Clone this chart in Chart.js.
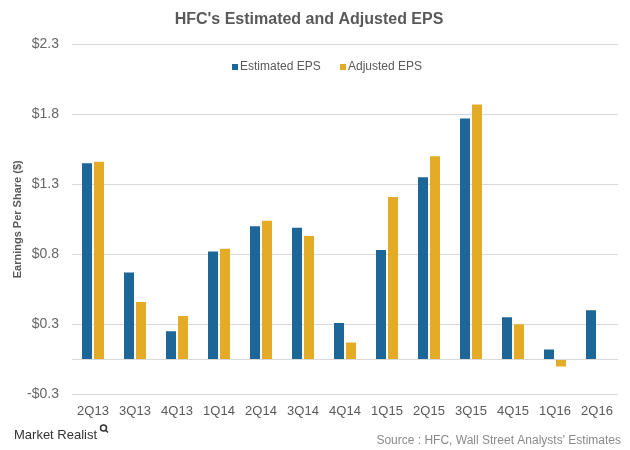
<!DOCTYPE html>
<html>
<head>
<meta charset="utf-8">
<script src="https://cdn.jsdelivr.net/npm/chart.js@4.4.0/dist/chart.umd.min.js"></script>
<style>
html,body{margin:0;padding:0;background:#fff;}
#wrap{width:630px;height:450px;position:relative;}
</style>
</head>
<body>
<div id="wrap"><canvas id="bar-chart"></canvas></div>
<script>
var quarters = ["2Q13", "3Q13", "4Q13", "1Q14", "2Q14", "3Q14", "4Q14", "1Q15", "2Q15", "3Q15", "4Q15", "1Q16", "2Q16"];
var estimatedEps = [1.40, 0.62, 0.20, 0.77, 0.95, 0.94, 0.26, 0.78, 1.30, 1.72, 0.30, 0.07, 0.35];
var adjustedEps = [1.41, 0.41, 0.31, 0.79, 0.99, 0.88, 0.12, 1.16, 1.45, 1.82, 0.25, -0.05, null];
var yTicks = [-0.25, 0, 0.25, 0.75, 1.25, 1.75, 2.25];
var yTickLabels = ["-$0.3", "", "$0.3", "$0.8", "$1.3", "$1.8", "$2.3"];

var blue = "#1c6698";
var gold = "#e3ab26";

// legend sits inside the plot, under the top grid line
var innerLegend = {
  id: "innerLegend",
  afterDraw: function(chart) {
    var c = chart.ctx;
    var y = 67;
    c.save();
    c.font = "12px 'Liberation Sans', Arial, sans-serif";
    c.textBaseline = "middle";
    c.fillStyle = blue;
    c.fillRect(232, y - 3, 6, 6);
    c.fillStyle = "#595959";
    c.fillText(chart.data.datasets[0].label, 240, y);
    c.fillStyle = gold;
    c.fillRect(340, y - 3, 6, 6);
    c.fillStyle = "#595959";
    c.fillText(chart.data.datasets[1].label, 348, y);
    c.restore();
  }
};

var footer = {
  id: "footer",
  afterDraw: function(chart) {
    var c = chart.ctx;
    c.save();
    c.textBaseline = "middle";
    c.font = "13px 'Liberation Sans', Arial, sans-serif";
    c.fillStyle = "#333";
    c.fillText("Market Realist", 14, 435);
    // little magnifier mark
    c.strokeStyle = "#333";
    c.lineWidth = 1.5;
    c.beginPath();
    c.arc(103.5, 428, 3, 0, Math.PI * 2);
    c.moveTo(105.7, 430.2);
    c.lineTo(108, 432.5);
    c.stroke();
    c.font = "12px 'Liberation Sans', Arial, sans-serif";
    c.fillStyle = "#8a8a8a";
    c.textAlign = "right";
    c.fillText("Source : HFC, Wall Street Analysts' Estimates", 621, 441);
    c.restore();
  }
};

var ctx = document.getElementById("bar-chart");
var barChart = new Chart(ctx, {
  type: "bar",
  data: {
    labels: quarters,
    datasets: [
      {
        label: "Estimated EPS",
        data: estimatedEps,
        backgroundColor: blue,
        categoryPercentage: 0.571,
        barPercentage: 0.833
      },
      {
        label: "Adjusted EPS",
        data: adjustedEps,
        backgroundColor: gold,
        categoryPercentage: 0.571,
        barPercentage: 0.833
      }
    ]
  },
  plugins: [innerLegend, footer],
  options: {
    responsive: true,
    maintainAspectRatio: false,
    animation: false,
    layout: { padding: { left: 0, right: 12, top: 0, bottom: 22 } },
    plugins: {
      legend: { display: false },
      tooltip: { enabled: false },
      title: {
        display: true,
        text: "HFC's Estimated and Adjusted EPS",
        color: "#595959",
        font: { family: "'Liberation Sans', Arial, sans-serif", size: 16, weight: "bold" },
        padding: { top: 10, bottom: 15 }
      }
    },
    scales: {
      x: {
        grid: { display: false, drawTicks: false },
        border: { display: false },
        ticks: {
          color: "#595959",
          padding: 9,
          maxRotation: 0,
          font: { family: "'Liberation Sans', Arial, sans-serif", size: 13 }
        }
      },
      y: {
        min: -0.25,
        max: 2.25,
        afterBuildTicks: function(scale) {
          scale.ticks = yTicks.map(function(v) { return { value: v }; });
        },
        afterFit: function(scale) { scale.width = 72; },
        grid: { color: "#d9d9d9", drawTicks: false },
        border: { display: false },
        ticks: {
          color: "#666",
          padding: 13,
          font: { family: "'Liberation Sans', Arial, sans-serif", size: 14 },
          callback: function(value, i) { return yTickLabels[i]; }
        },
        title: {
          display: true,
          text: "Earnings Per Share ($)",
          color: "#595959",
          padding: { top: 11, bottom: 0 },
          font: { family: "'Liberation Sans', Arial, sans-serif", size: 11, weight: "bold" }
        }
      }
    }
  }
});
</script>
</body>
</html>
